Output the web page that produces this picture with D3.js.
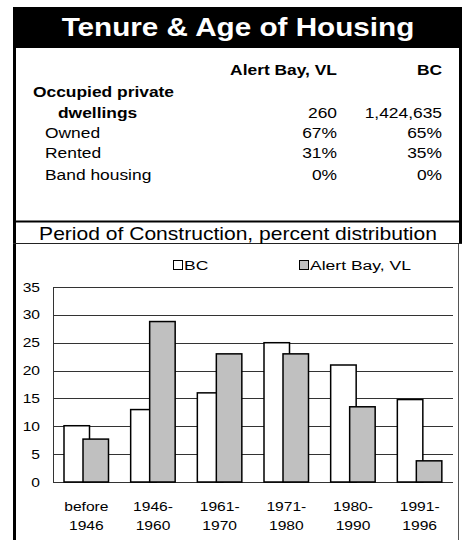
<!DOCTYPE html>
<html>
<head>
<meta charset="utf-8">
<script src="https://cdn.jsdelivr.net/npm/d3@7"></script>
<style>
  html, body { margin: 0; padding: 0; background: #fff; }
  svg { display: block; font-family: Arial, "Liberation Sans", Helvetica, sans-serif; }
</style>
</head>
<body>
<svg id="chart" width="462" height="540"></svg>
<script>
// table data
const tableCols   = ['Alert Bay, VL', 'BC'];
const tableRows   = ['Owned', 'Rented', 'Band housing'];
const dwellings   = ['260', '1,424,635'];
const tableAlert  = ['67%', '31%', '0%'];
const tableBC     = ['65%', '35%', '0%'];

// chart data
const periods     = [['before', '1946'], ['1946-', '1960'], ['1961-', '1970'], ['1971-', '1980'], ['1980-', '1990'], ['1991-', '1996']];
const seriesNames = ['BC', 'Alert Bay, VL'];
const bcVals      = [10.1, 13, 16, 25, 21, 14.8];
const alertVals   = [7.7, 28.8, 23, 23, 13.5, 3.8];
const yTicks      = [0, 5, 10, 15, 20, 25, 30, 35];

const svg = d3.select('#chart');

// text helper - the source picture is stretched sideways a bit
function txt(x, y, s, o = {}) {
  return svg.append('text')
    .attr('transform', `translate(${x},${y}) scale(${o.sx || 1},1)`)
    .attr('font-size', o.size || 14)
    .attr('font-weight', o.weight || 'normal')
    .attr('text-anchor', o.anchor || 'start')
    .attr('fill', o.fill || '#000')
    .text(s);
}

// frame + title band
svg.append('rect').attr('x', 13).attr('y', 7).attr('width', 449).attr('height', 41).attr('fill', '#000');
svg.append('rect').attr('x', 13).attr('y', 7).attr('width', 3).attr('height', 533).attr('fill', '#000');
svg.append('rect').attr('x', 459).attr('y', 7).attr('width', 3).attr('height', 236).attr('fill', '#000');
svg.append('line').attr('x1', 458.5).attr('x2', 458.5).attr('y1', 243).attr('y2', 540)
   .attr('stroke', '#555').attr('stroke-width', 1);
svg.append('rect').attr('x', 13).attr('y', 220.5).attr('width', 449).attr('height', 2).attr('fill', '#000');
svg.append('line').attr('x1', 13).attr('x2', 462).attr('y1', 243.5).attr('y2', 243.5)
   .attr('stroke', '#222').attr('stroke-width', 1);

txt(238, 35.5, 'Tenure & Age of Housing', { size: 26.5, weight: 'bold', anchor: 'middle', fill: '#fff', sx: 1.12 });

// table
const colRight = [337, 442];
const tb = { size: 14.5, sx: 1.2 };
tableCols.forEach((c, i) => txt(colRight[i], 75, c, { ...tb, weight: 'bold', anchor: 'end' }));
txt(33, 97, 'Occupied private', { ...tb, weight: 'bold' });
txt(58, 117.5, 'dwellings', { ...tb, weight: 'bold' });
dwellings.forEach((v, i) => txt(colRight[i], 117.5, v, { ...tb, anchor: 'end' }));
const rowY = [138, 158, 180];
tableRows.forEach((r, j) => {
  txt(45, rowY[j], r, tb);
  txt(colRight[0], rowY[j], tableAlert[j], { ...tb, anchor: 'end' });
  txt(colRight[1], rowY[j], tableBC[j], { ...tb, anchor: 'end' });
});

txt(238, 239.5, 'Period of Construction, percent distribution', { size: 18, anchor: 'middle', sx: 1.17 });

// chart
const x0 = d3.scaleBand().domain(d3.range(periods.length)).range([53, 453]);
const x1 = d3.scalePoint().domain(seriesNames).range([11, 30]);
const barW = 25.5;
const y = d3.scaleLinear().domain([0, 35]).range([482, 287]);
const fills = { 'BC': '#fff', 'Alert Bay, VL': '#c0c0c0' };

svg.append('g').selectAll('line').data(yTicks).join('line')
  .attr('x1', 53).attr('x2', 453)
  .attr('y1', d => Math.round(y(d)) + 0.5).attr('y2', d => Math.round(y(d)) + 0.5)
  .attr('stroke', '#333').attr('stroke-width', 1);
svg.append('line').attr('x1', 53.5).attr('x2', 53.5).attr('y1', y(35)).attr('y2', y(0))
  .attr('stroke', '#333');

yTicks.forEach(t => txt(40, y(t) + 4.5, String(t), { size: 12.5, anchor: 'end', sx: 1.25 }));

const data = periods.map((p, i) => ({ i, vals: [bcVals[i], alertVals[i]] }));
const grp = svg.append('g').selectAll('g').data(data).join('g')
  .attr('transform', d => `translate(${x0(d.i)},0)`);
grp.selectAll('rect').data(d => d.vals.map((v, k) => ({ k, v }))).join('rect')
  .attr('x', d => x1(seriesNames[d.k]))
  .attr('y', d => y(d.v))
  .attr('width', barW)
  .attr('height', d => y(0) - y(d.v))
  .attr('fill', d => fills[seriesNames[d.k]])
  .attr('stroke', '#000').attr('stroke-width', 1.5);

periods.forEach((p, i) => {
  const cx = x0(i) + x0.bandwidth() / 2;
  txt(cx, 511, p[0], { size: 12.5, anchor: 'middle', sx: 1.25 });
  txt(cx, 529.5, p[1], { size: 12.5, anchor: 'middle', sx: 1.25 });
});

// legend
const legX = [173, 299];
seriesNames.forEach((s, k) => {
  svg.append('rect').attr('x', legX[k] + 0.5).attr('y', 260.5).attr('width', 9).attr('height', 9)
    .attr('fill', fills[s]).attr('stroke', '#000').attr('stroke-width', 1);
  txt(legX[k] + 11, 270, s, { size: 13.5, sx: 1.3 });
});
</script>
</body>
</html>
